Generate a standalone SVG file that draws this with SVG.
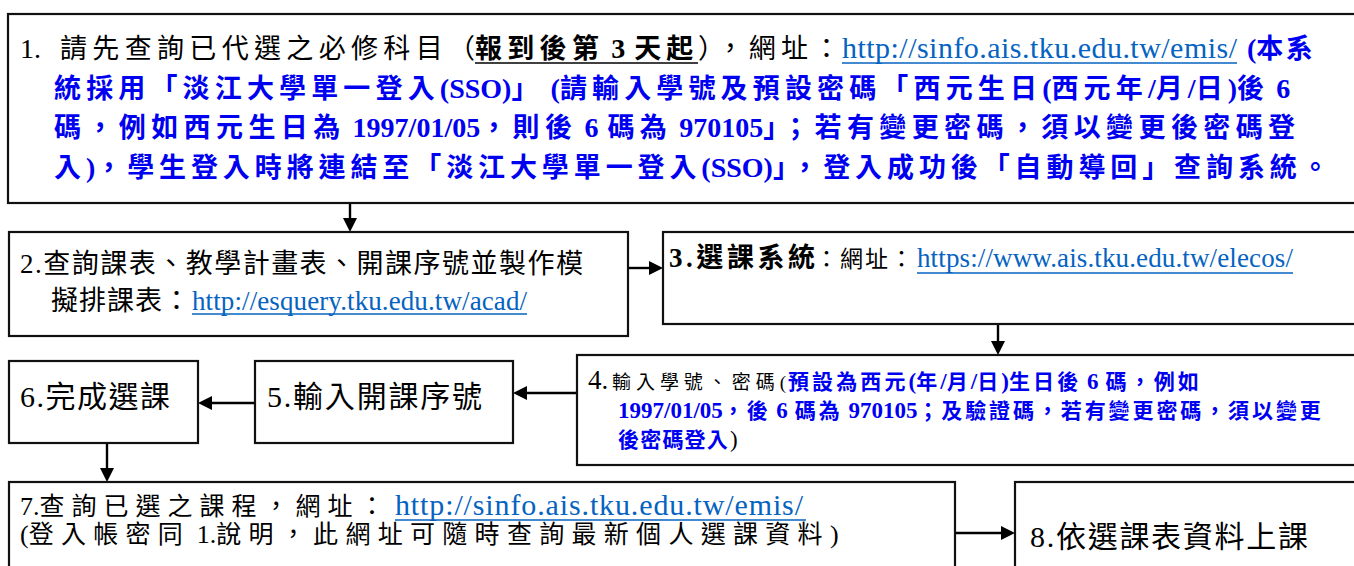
<svg xmlns="http://www.w3.org/2000/svg" width="1354" height="566" viewBox="0 0 1354 566">
<defs>
<style>
text{font-family:"Liberation Serif","Noto Sans CJK TC",serif;fill:#000}
.box{fill:#fff;stroke:#111;stroke-width:2.2}
.conn{stroke:#000;stroke-width:2.4;fill:none;marker-end:url(#ah)}
.b{fill:#0000f0;font-weight:bold}
.u{fill:#0563C1}
.ul{stroke:#0563C1;stroke-width:1.6}
.ulk{stroke:#000;stroke-width:1.6}
</style>
<marker id="ah" markerUnits="userSpaceOnUse" markerWidth="16" markerHeight="14" refX="2" refY="7" orient="auto">
<path d="M0,0 L14,7 L0,14 Z" fill="#000"/>
</marker>
</defs>
<rect width="1354" height="566" fill="#fff"/>

<g id="connectors">
<line class="conn" x1="350" y1="203" x2="350" y2="220"/>
<line class="conn" x1="628" y1="268" x2="651" y2="268"/>
<line class="conn" x1="998" y1="324" x2="998" y2="343"/>
<line class="conn" x1="577" y1="393" x2="525" y2="393"/>
<line class="conn" x1="255" y1="403" x2="210" y2="403"/>
<line class="conn" x1="107" y1="443" x2="107" y2="470"/>
<line class="conn" x1="955" y1="533" x2="1003" y2="533"/>
</g>

<g id="node1">
<rect class="box" x="8" y="14" width="1356" height="189"/>
<text x="20" y="58" font-size="28">1.</text>
<text x="60" y="58" font-size="27" textLength="415" lengthAdjust="spacing">請先查詢已代選之必修科目（</text>
<text x="475" y="58" font-size="27" font-weight="bold"><tspan letter-spacing="5.3">報到後第</tspan><tspan font-size="28" letter-spacing="0">&#160;3</tspan><tspan dx="9" letter-spacing="5">天起</tspan></text>
<line class="ulk" x1="475" y1="63" x2="698" y2="63"/>
<text x="698" y="58" font-size="27" textLength="142" lengthAdjust="spacing">），網址：</text>
<text class="u" x="842" y="58" font-size="30" textLength="395" lengthAdjust="spacing">http://sinfo.ais.tku.edu.tw/emis/</text>
<line class="ul" x1="842" y1="63" x2="1237" y2="63"/>
<text class="b" x="1247" y="58" font-size="27"><tspan font-size="28">(</tspan><tspan letter-spacing="2.5">本系</tspan></text>
<text class="b" x="54" y="97.5" font-size="27"><tspan letter-spacing="5.15">統採用「淡江大學單一登入</tspan><tspan font-size="28" letter-spacing="0">(SSO)</tspan><tspan letter-spacing="5.15">」</tspan><tspan font-size="28" letter-spacing="0">&#160;(</tspan><tspan letter-spacing="5.15">請輸入學號及預設密碼「西元生日</tspan><tspan font-size="28" letter-spacing="0">(</tspan><tspan letter-spacing="5.15">西元年</tspan><tspan font-size="28" letter-spacing="0">/</tspan><tspan letter-spacing="5.15">月</tspan><tspan font-size="28" letter-spacing="0">/</tspan><tspan letter-spacing="5.15">日</tspan><tspan font-size="28" letter-spacing="0">)</tspan><tspan letter-spacing="5.15">後</tspan><tspan font-size="28" letter-spacing="0">&#160;6</tspan></text>
<text class="b" x="54" y="137" font-size="27"><tspan letter-spacing="5.4">碼，例如西元生日為</tspan><tspan font-size="28" letter-spacing="0">&#160;1997/01/05</tspan><tspan letter-spacing="5.4">，則後</tspan><tspan font-size="28" letter-spacing="0">&#160;6</tspan><tspan dx="9" letter-spacing="5.4">碼為</tspan><tspan font-size="28" letter-spacing="0">&#160;970105</tspan><tspan letter-spacing="5.4">」；若有變更密碼，須以變更後密碼登</tspan></text>
<text class="b" x="54" y="176.5" font-size="27"><tspan letter-spacing="4.9">入</tspan><tspan font-size="28" letter-spacing="0">)</tspan><tspan letter-spacing="4.9">，學生登入時將連結至「淡江大學單一登入</tspan><tspan font-size="28" letter-spacing="0">(SSO)</tspan><tspan letter-spacing="4.9">」，登入成功後「自動導回」查詢系統。</tspan></text>
</g>

<g id="node2">
<rect class="box" x="9" y="232" width="619" height="104"/>
<text x="20" y="273" font-size="27" textLength="563" lengthAdjust="spacing">2.查詢課表、教學計畫表、開課序號並製作模</text>
<text x="51" y="310" font-size="27" textLength="139" lengthAdjust="spacing">擬排課表：</text>
<text class="u" x="192" y="310" font-size="27" textLength="335" lengthAdjust="spacing">http://esquery.tku.edu.tw/acad/</text>
<line class="ul" x1="192" y1="314" x2="527" y2="314"/>
</g>

<g id="node3">
<rect class="box" x="663" y="232" width="701" height="92"/>
<text x="669" y="267" font-size="27" font-weight="bold" textLength="146" lengthAdjust="spacing">3.選課系統</text>
<text x="815" y="267" font-size="23" textLength="98" lengthAdjust="spacing">：網址：</text>
<text class="u" x="917" y="267" font-size="27" textLength="376" lengthAdjust="spacing">https://www.ais.tku.edu.tw/elecos/</text>
<line class="ul" x1="917" y1="273" x2="1293" y2="273"/>
</g>

<g id="node4">
<rect class="box" x="577" y="355" width="787" height="110"/>
<text x="588" y="389" font-size="27">4.</text>
<text x="612" y="389" font-size="19" textLength="174" lengthAdjust="spacing">輸入學號、密碼(</text>
<text class="b" x="788" y="389" font-size="21"><tspan letter-spacing="3.1">預設為西元</tspan><tspan font-size="23" letter-spacing="0">(</tspan><tspan letter-spacing="3.1">年</tspan><tspan font-size="23" letter-spacing="0">/</tspan><tspan letter-spacing="3.1">月</tspan><tspan font-size="23" letter-spacing="0">/</tspan><tspan letter-spacing="3.1">日</tspan><tspan font-size="23" letter-spacing="0">)</tspan><tspan letter-spacing="3.1">生日後</tspan><tspan font-size="23" letter-spacing="0">&#160;6</tspan><tspan dx="7" letter-spacing="3.1">碼，例如</tspan></text>
<text class="b" x="618" y="418" font-size="21"><tspan font-size="23" letter-spacing="0">1997/01/05</tspan><tspan letter-spacing="2.9">，後</tspan><tspan font-size="23" letter-spacing="0">&#160;6</tspan><tspan dx="7" letter-spacing="2.9">碼為</tspan><tspan font-size="23" letter-spacing="0">&#160;970105</tspan><tspan letter-spacing="2.9">；及驗證碼，若有變更密碼，須以變更</tspan></text>
<text class="b" x="618" y="447" font-size="21" letter-spacing="1.2">後密碼登入</text>
<text x="730" y="447" font-size="23">)</text>
</g>

<g id="node5">
<rect class="box" x="255" y="361" width="258" height="82"/>
<text x="267" y="407" font-size="30" textLength="215" lengthAdjust="spacing">5.輸入開課序號</text>
</g>

<g id="node6">
<rect class="box" x="9" y="361" width="189" height="82"/>
<text x="20" y="407" font-size="30" textLength="150" lengthAdjust="spacing">6.完成選課</text>
</g>

<g id="node7">
<rect class="box" x="9" y="482" width="946" height="100"/>
<text x="20" y="515" font-size="25"><tspan font-size="26" letter-spacing="0">7.</tspan><tspan letter-spacing="7">查詢已選之課程，網址：</tspan></text>
<text class="u" x="395" y="515" font-size="30" textLength="408" lengthAdjust="spacing">http://sinfo.ais.tku.edu.tw/emis/</text>
<line class="ul" x1="395" y1="520" x2="806" y2="520"/>
<text x="20" y="543" font-size="25"><tspan font-size="26" letter-spacing="0">(</tspan><tspan letter-spacing="7.3">登入帳密同</tspan><tspan font-size="26" letter-spacing="0">&#160;1.</tspan><tspan letter-spacing="7.3">說明，此網址可隨時查詢最新個人選課資料</tspan><tspan font-size="26" letter-spacing="0">)</tspan></text>
</g>

<g id="node8">
<rect class="box" x="1015" y="482" width="349" height="100"/>
<text x="1030" y="547" font-size="30" textLength="278" lengthAdjust="spacing">8.依選課表資料上課</text>
</g>
</svg>
